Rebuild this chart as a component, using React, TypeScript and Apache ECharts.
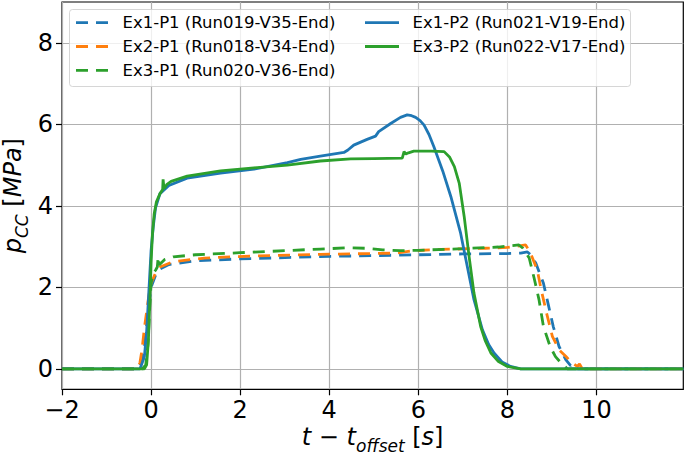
import React, { useEffect, useRef } from "react";
import * as echarts from "echarts";

// ---- data (t - t_offset [s], p_CC [MPa]) ----
const tEx1P1 = [-2, -0.3, -0.22, -0.15, -0.1, -0.05, 0, 0.1, 0.2, 0.4, 1, 2, 3, 4, 5, 6, 7, 8, 8.3, 8.45, 8.52, 8.64, 8.81, 8.92, 9.03, 9.16, 9.31, 9.42, 9.47, 9.52, 9.58, 11.95];
const pEx1P1 = [0, 0, 0.15, 0.6, 1.1, 1.6, 2.0, 2.3, 2.45, 2.56, 2.65, 2.7, 2.73, 2.76, 2.78, 2.8, 2.82, 2.83, 2.84, 2.87, 2.8, 2.59, 2.1, 1.57, 1.04, 0.55, 0.23, 0.08, 0.12, 0.05, 0, 0];

const tEx2P1 = [-2, -0.32, -0.25, -0.2, -0.15, -0.1, -0.05, 0, 0.1, 0.2, 0.5, 1.2, 2.3, 3.8, 5.5, 5.9, 6.5, 7.5, 8.0, 8.41, 8.52, 8.67, 8.76, 8.88, 9.01, 9.16, 9.31, 9.45, 9.57, 9.62, 9.68, 11.95];
const pEx2P1 = [0, 0, 0.15, 0.5, 1.0, 1.4, 1.8, 2.1, 2.35, 2.5, 2.63, 2.72, 2.77, 2.81, 2.84, 2.9, 2.93, 2.96, 2.98, 3.04, 2.84, 2.43, 1.94, 1.37, 0.8, 0.47, 0.31, 0.15, 0.06, 0.12, 0, 0];

const tEx3P1 = [-2, -0.2, -0.12, -0.07, -0.03, 0, 0.05, 0.1, 0.14, 0.16, 0.18, 0.3, 0.5, 1, 2, 3, 3.8, 4.4, 4.8, 5.2, 5.6, 6, 7, 7.8, 8.26, 8.35, 8.49, 8.6, 8.71, 8.81, 8.96, 9.08, 9.2, 9.3, 9.35, 11.95];
const pEx3P1 = [0, 0, 0.1, 0.6, 1.5, 2.1, 2.35, 2.42, 2.5, 2.75, 2.55, 2.68, 2.75, 2.8, 2.85, 2.9, 2.94, 2.97, 2.96, 2.92, 2.9, 2.91, 2.95, 2.99, 3.04, 2.96, 2.72, 2.23, 1.7, 1.04, 0.55, 0.3, 0.15, 0.05, 0, 0];

const tEx1P2 = [-2, -0.25, -0.15, -0.1, -0.05, 0, 0.05, 0.1, 0.2, 0.4, 0.81, 1.56, 2.31, 3.06, 3.36, 3.8, 4.33, 4.42, 4.55, 4.85, 5.04, 5.11, 5.38, 5.6, 5.75, 5.85, 5.94, 6.04, 6.13, 6.24, 6.35, 6.55, 6.73, 6.95, 7.1, 7.25, 7.44, 7.58, 7.7, 7.88, 8.07, 8.3, 11.95];
const pEx1P2 = [0, 0, 0.3, 0.9, 1.9, 2.9, 3.5, 3.95, 4.3, 4.5, 4.68, 4.8, 4.9, 5.06, 5.14, 5.22, 5.31, 5.37, 5.49, 5.63, 5.71, 5.82, 6.02, 6.17, 6.23, 6.21, 6.17, 6.09, 5.98, 5.75, 5.45, 4.85, 4.23, 3.33, 2.51, 1.7, 0.96, 0.6, 0.39, 0.17, 0.06, 0, 0];

const tEx3P2 = [-2, -0.15, -0.1, -0.06, -0.03, 0, 0.03, 0.07, 0.12, 0.2, 0.26, 0.27, 0.29, 0.35, 0.45, 0.81, 1.56, 2.31, 3.06, 3.8, 4.48, 5.0, 5.64, 5.68, 5.72, 5.78, 5.9, 6.3, 6.58, 6.7, 6.81, 6.92, 7.03, 7.14, 7.25, 7.4, 7.5, 7.63, 7.8, 8.0, 8.3, 11.95];
const pEx3P2 = [0, 0, 0.1, 0.7, 1.6, 2.6, 3.3, 3.8, 4.1, 4.3, 4.4, 4.65, 4.42, 4.52, 4.6, 4.73, 4.86, 4.93, 5.0, 5.1, 5.15, 5.16, 5.17, 5.33, 5.27, 5.3, 5.34, 5.34, 5.33, 5.2, 4.96, 4.55, 3.74, 2.76, 1.86, 1.04, 0.7, 0.39, 0.18, 0.06, 0, 0];

const xTicks = [-2, 0, 2, 4, 6, 8, 10];
const yTicks = [0, 2, 4, 6, 8];

const seriesNames = [
  "Ex1-P1 (Run019-V35-End)",
  "Ex2-P1 (Run018-V34-End)",
  "Ex3-P1 (Run020-V36-End)",
  "Ex1-P2 (Run021-V19-End)",
  "Ex3-P2 (Run022-V17-End)",
];
const seriesColors = ["#1f77b4", "#ff7f0e", "#2ca02c", "#1f77b4", "#2ca02c"];
const seriesDashed = [true, true, true, false, false];

const FONT = "DejaVu Sans";
const DASH = [12, 8];

function zip(t: number[], p: number[]) {
  return t.map((v, i) => [v, p[i]]);
}

export default function App() {
  const ref = useRef<HTMLDivElement>(null);
  useEffect(() => {
    if (!ref.current) return;
    const chart = echarts.init(ref.current, null, { renderer: "svg" });
    const datasets = [
      zip(tEx1P1, pEx1P1),
      zip(tEx2P1, pEx2P1),
      zip(tEx3P1, pEx3P1),
      zip(tEx1P2, pEx1P2),
      zip(tEx3P2, pEx3P2),
    ];

    const legendEls: any[] = [];
    legendEls.push({
      type: "rect",
      shape: { x: 69.5, y: 9.5, width: 561, height: 77, r: 3 },
      style: { fill: "rgba(255,255,255,0.8)", stroke: "rgba(204,204,204,0.8)", lineWidth: 1 },
      z: 100,
    });
    const pos = [
      { lx: 76, tx: 122.5, y: 22.7 },
      { lx: 76, tx: 122.5, y: 46.5 },
      { lx: 76, tx: 122.5, y: 70.3 },
      { lx: 365, tx: 412.5, y: 22.7 },
      { lx: 365, tx: 412.5, y: 46.5 },
    ];
    pos.forEach((p, i) => {
      legendEls.push({
        type: "line",
        shape: { x1: p.lx, y1: p.y, x2: p.lx + 34, y2: p.y },
        style: {
          stroke: seriesColors[i],
          lineWidth: 2.8,
          lineDash: seriesDashed[i] ? DASH : null,
        },
        z: 101,
      });
      legendEls.push({
        type: "text",
        x: p.tx,
        y: p.y,
        style: {
          text: seriesNames[i],
          font: `16.5px "${FONT}"`,
          fill: "#000",
          verticalAlign: "middle",
          align: "left",
        },
        z: 101,
      });
    });

    const fmt = (v: number) => (v < 0 ? "\u2212" + Math.abs(v) : String(v));

    const nameRich = {
      i: { fontFamily: FONT, fontStyle: "italic", fontSize: 24, lineHeight: 34, verticalAlign: "middle", color: "#000" },
      n: { fontFamily: FONT, fontSize: 24, lineHeight: 34, verticalAlign: "middle", color: "#000" },
      s: { fontFamily: FONT, fontStyle: "italic", fontSize: 17, lineHeight: 17, verticalAlign: "bottom", color: "#000" },
    };

    chart.setOption({
      animation: false,
      backgroundColor: "#fff",
      grid: {
        left: 62,
        top: 2,
        right: 1.7,
        bottom: 74.7,
        show: true,
        borderColor: "#000",
        borderWidth: 1.2,
        backgroundColor: "transparent",
        containLabel: false,
        outerBoundsMode: "none",
      },
      xAxis: {
        type: "value",
        min: -2,
        max: 11.95,
        name: "{i|t}{n| \u2212 }{i|t}{s|offset}{n| [}{i|s}{n|]}",
        nameLocation: "middle",
        nameGap: 31,
        nameMoveOverlap: false,
        nameTextStyle: { rich: nameRich, fontFamily: FONT, fontSize: 24 },
        axisLine: { show: false, onZero: false },
        axisTick: { show: true, inside: false, length: 6, customValues: xTicks, lineStyle: { color: "#000", width: 1.2 } },
        axisLabel: { customValues: xTicks, formatter: fmt, fontFamily: FONT, fontSize: 24, color: "#000", margin: 9 },
        splitLine: { show: true, lineStyle: { color: "#b0b0b0", width: 1.2 } },
      },
      yAxis: {
        type: "value",
        min: -0.5,
        max: 9,
        name: "{i|p}{s|CC}{n| [}{i|MPa}{n|]}",
        nameLocation: "middle",
        nameRotate: 90,
        nameGap: 32,
        nameMoveOverlap: false,
        nameTextStyle: { rich: nameRich, fontFamily: FONT, fontSize: 24 },
        axisLine: { show: false, onZero: false },
        axisTick: { show: true, inside: false, length: 6, customValues: yTicks, lineStyle: { color: "#000", width: 1.2 } },
        axisLabel: { customValues: yTicks, formatter: fmt, fontFamily: FONT, fontSize: 24, color: "#000", margin: 9 },
        splitLine: { show: true, lineStyle: { color: "#b0b0b0", width: 1.2 } },
      },
      graphic: legendEls,
      series: datasets.map((d, i) => ({
        type: "line",
        name: seriesNames[i],
        data: d,
        showSymbol: false,
        symbol: "none",
        clip: true,
        z: 2 + i,
        lineStyle: {
          color: seriesColors[i],
          width: 2.8,
          type: seriesDashed[i] ? DASH : "solid",
        },
        itemStyle: { color: seriesColors[i] },
      })),
    });
    return () => chart.dispose();
  }, []);
  return (
    <div
      ref={ref}
      style={{ position: "fixed", left: 0, top: 0, width: 685, height: 464 }}
    />
  );
}
